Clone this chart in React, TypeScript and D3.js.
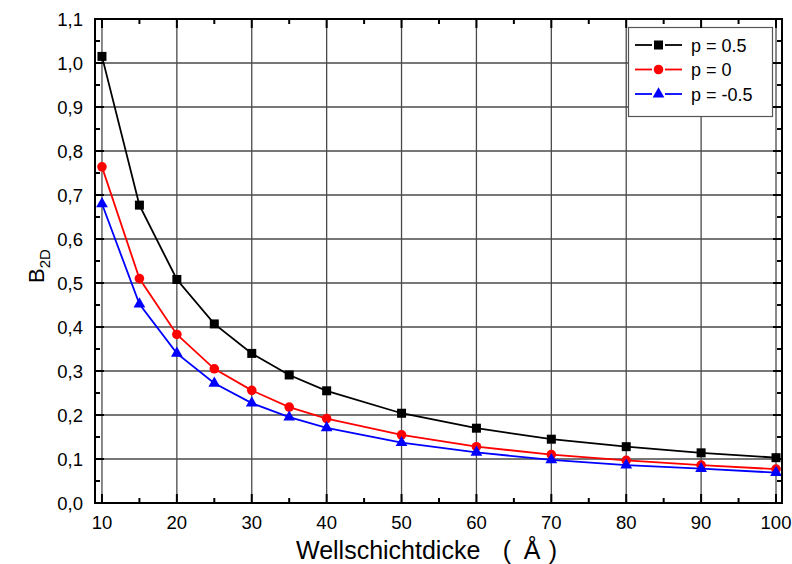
import React from "react";
import * as d3 from "d3";

const xValues = [10, 15, 20, 25, 30, 35, 40, 50, 60, 70, 80, 90, 100];
const seriesP05 = [1.015, 0.677, 0.508, 0.407, 0.34, 0.291, 0.255, 0.204, 0.17, 0.145, 0.128, 0.114, 0.103];
const seriesP0 = [0.764, 0.51, 0.383, 0.305, 0.256, 0.218, 0.192, 0.155, 0.128, 0.11, 0.097, 0.086, 0.077];
const seriesPm05 = [0.68, 0.452, 0.34, 0.272, 0.227, 0.195, 0.171, 0.137, 0.115, 0.098, 0.086, 0.078, 0.069];
const seriesNames = ["p = 0.5", "p = 0", "p = -0.5"];
const seriesColors = ["#000000", "#ff0000", "#0000ff"];
const seriesShapes = ["square", "circle", "triangle"];
const xTicks = [10, 20, 30, 40, 50, 60, 70, 80, 90, 100];
const xMinorTicks = [15, 25, 35, 45, 55, 65, 75, 85, 95];
const yTicks = [0, 0.1, 0.2, 0.3, 0.4, 0.5, 0.6, 0.7, 0.8, 0.9, 1.0, 1.1];
const yMinorTicks = [0.05, 0.15, 0.25, 0.35, 0.45, 0.55, 0.65, 0.75, 0.85, 0.95, 1.05];
const xTitleMain = "Wellschichtdicke";
const xTitleUnit = ["(", "Å", ")"];

const W = 792;
const H = 564;
const L = 95, R = 782, T = 19, B = 503;
const FONT = "'Liberation Sans', Arial, sans-serif";

const x = d3.scaleLinear().domain([9.07, 100.8]).range([L, R]);
const y = d3.scaleLinear().domain([0, 1.1]).range([B, T]);

function Marker({ shape, cx, cy, color }: { shape: string; cx: number; cy: number; color: string }) {
  if (shape === "square") return <rect x={cx - 4.5} y={cy - 4.5} width={9} height={9} fill={color} />;
  if (shape === "circle") return <circle cx={cx} cy={cy} r={4.8} fill={color} />;
  const sym = d3.symbol().type(d3.symbolTriangle).size(60)();
  return <path d={sym as string} transform={`translate(${cx},${cy})`} fill={color} />;
}

export default function App() {
  const all = [seriesP05, seriesP0, seriesPm05];
  const line = d3
    .line<number>()
    .x((_, i) => x(xValues[i]))
    .y((d) => y(d));
  const fmt = (v: number) => v.toFixed(1).replace(".", ",");
  const unitX = [507, 532, 553];
  return (
    <svg width={W} height={H} style={{ position: "absolute", left: 0, top: 0, background: "#fff" }}>
      <rect x={0} y={0} width={W} height={H} fill="#fff" />
      {/* grid */}
      {xTicks.map((t) => (
        <line key={"gx" + t} x1={x(t)} x2={x(t)} y1={T} y2={B} stroke="#4a4a4a" strokeWidth={1.3} />
      ))}
      {yTicks.slice(1, -1).map((t) => (
        <line key={"gy" + t} x1={L} x2={R} y1={y(t)} y2={y(t)} stroke="#4a4a4a" strokeWidth={1.3} />
      ))}
      {/* series */}
      {all.map((s, k) => (
        <g key={"s" + k}>
          <path d={line(s) as string} fill="none" stroke={seriesColors[k]} strokeWidth={1.8} />
          {s.map((v, i) => (
            <Marker key={i} shape={seriesShapes[k]} cx={x(xValues[i])} cy={y(v)} color={seriesColors[k]} />
          ))}
        </g>
      ))}
      {/* legend */}
      <rect x={628.5} y={27.5} width={144} height={89} fill="#fff" stroke="#555" strokeWidth={1.2} />
      {seriesNames.map((n, k) => {
        const ly = 45 + k * 24.5;
        return (
          <g key={"l" + k}>
            <line x1={635} x2={652} y1={ly} y2={ly} stroke={seriesColors[k]} strokeWidth={1.8} />
            <line x1={665} x2={682} y1={ly} y2={ly} stroke={seriesColors[k]} strokeWidth={1.8} />
            <Marker shape={seriesShapes[k]} cx={658.5} cy={ly} color={seriesColors[k]} />
            <text x={691} y={ly + 6.5} fontFamily={FONT} fontSize={18} fill="#000">
              {n}
            </text>
          </g>
        );
      })}
      {/* frame */}
      <rect x={L} y={T} width={R - L} height={B - T} fill="none" stroke="#000" strokeWidth={2} />
      {/* ticks */}
      {xTicks.map((t) => (
        <g key={"tx" + t}>
          <line x1={x(t)} x2={x(t)} y1={B} y2={B - 9} stroke="#000" strokeWidth={2} />
          <line x1={x(t)} x2={x(t)} y1={T} y2={T + 9} stroke="#000" strokeWidth={2} />
        </g>
      ))}
      {xMinorTicks.map((t) => (
        <g key={"mx" + t}>
          <line x1={x(t)} x2={x(t)} y1={B} y2={B - 5} stroke="#000" strokeWidth={2} />
          <line x1={x(t)} x2={x(t)} y1={T} y2={T + 5} stroke="#000" strokeWidth={2} />
        </g>
      ))}
      {yTicks.map((t) => (
        <g key={"ty" + t}>
          <line x1={L} x2={L + 9} y1={y(t)} y2={y(t)} stroke="#000" strokeWidth={2} />
          <line x1={R} x2={R - 9} y1={y(t)} y2={y(t)} stroke="#000" strokeWidth={2} />
        </g>
      ))}
      {yMinorTicks.map((t) => (
        <g key={"my" + t}>
          <line x1={L} x2={L + 5} y1={y(t)} y2={y(t)} stroke="#000" strokeWidth={2} />
          <line x1={R} x2={R - 5} y1={y(t)} y2={y(t)} stroke="#000" strokeWidth={2} />
        </g>
      ))}
      {/* tick labels */}
      {xTicks.map((t) => (
        <text key={"lx" + t} x={x(t)} y={529} textAnchor="middle" fontFamily={FONT} fontSize={18.5} fill="#000">
          {t}
        </text>
      ))}
      {yTicks.map((t) => (
        <text key={"ly" + t} x={83} y={y(t) + 6.5} textAnchor="end" fontFamily={FONT} fontSize={18.5} fill="#000">
          {fmt(t)}
        </text>
      ))}
      {/* axis titles */}
      <text x={296} y={559} fontFamily={FONT} fontSize={25} fill="#000">
        {xTitleMain}
      </text>
      {xTitleUnit.map((u, i) => (
        <text key={"u" + i} x={unitX[i]} y={559} textAnchor="middle" fontFamily={FONT} fontSize={25} fill="#000">
          {u}
        </text>
      ))}
      <text transform="translate(44,266) rotate(-90)" textAnchor="middle" fontFamily={FONT} fontSize={22} fill="#000">
        B<tspan fontSize={15} dy={6}>2D</tspan>
      </text>
    </svg>
  );
}
